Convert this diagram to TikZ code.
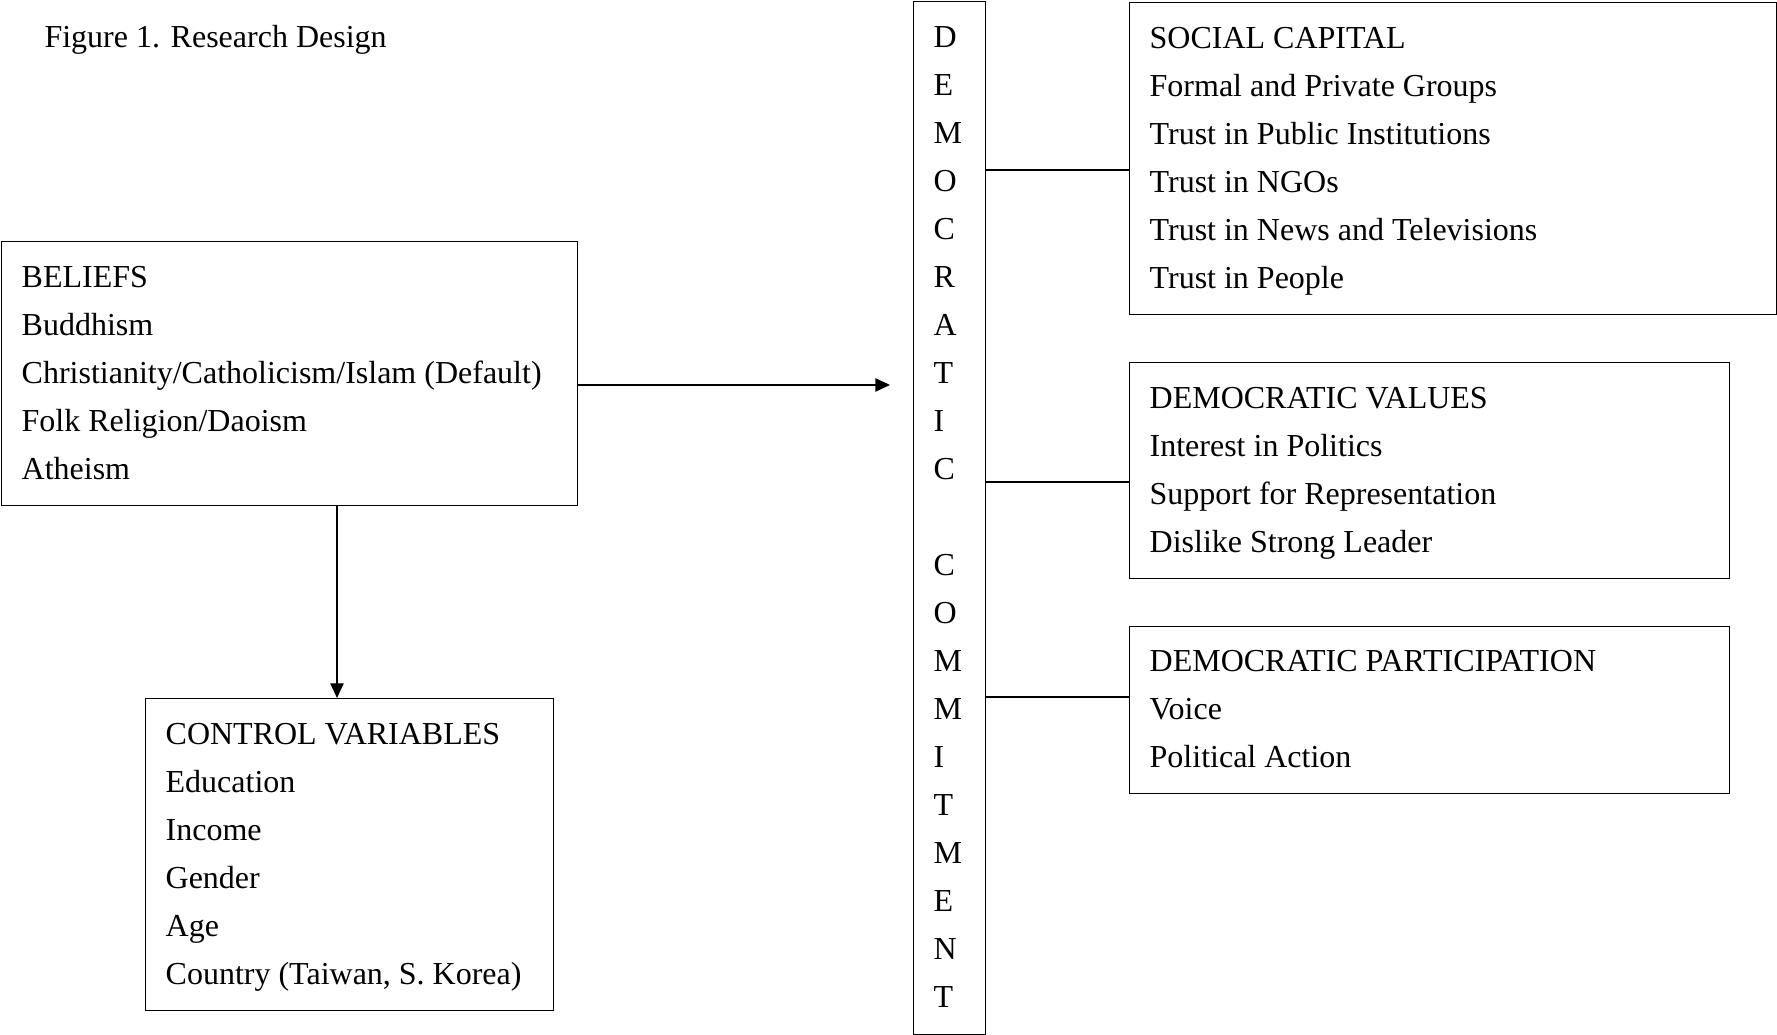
\documentclass[tikz,border=0pt]{standalone}
\usepackage{fontspec}
\setmainfont{Liberation Serif}
\usetikzlibrary{arrows.meta}

\begin{document}
\begin{tikzpicture}[x=0.375pt, y=-0.375pt, font=\fontsize{12}{18}\selectfont,
    box/.style={draw, line width=0.5pt, anchor=north west, align=flush left,
                inner xsep=7.5pt, inner ysep=0pt,
                execute at begin node=\strut, execute at end node=\strut},
    link/.style={line width=0.5pt},
    arr/.style={line width=0.5pt, -{Triangle[length=5.5pt,width=5pt]}}]
    \useasboundingbox (0,0) rectangle (1777,1035);

    \node[anchor=base west, inner sep=0pt] (title) at (44,48) {Figure 1. Research Design};

    \node[box, text width=201pt, minimum height=99pt] (beliefs) at (1,241)
        {BELIEFS\\Buddhism\\Christianity/Catholicism/Islam (Default)\\Folk Religion/Daoism\\Atheism};
    \node[box, text width=138pt, minimum height=117pt] (controls) at (145,698)
        {CONTROL VARIABLES\\Education\\Income\\Gender\\Age\\Country (Taiwan, S. Korea)};

    \node[box, text width=12pt, minimum height=387.4pt] (democ) at (913,1)
        {D\\E\\M\\O\\C\\R\\A\\T\\I\\C\\[18pt]C\\O\\M\\M\\I\\T\\M\\E\\N\\T};

    \node[box, text width=227.6pt, minimum height=117pt] (social) at (1129,2)
        {SOCIAL CAPITAL\\Formal and Private Groups\\Trust in Public Institutions\\Trust in NGOs\\Trust in News and Televisions\\Trust in People};
    \node[box, text width=210pt, minimum height=81pt] (values) at (1129,362)
        {DEMOCRATIC VALUES\\Interest in Politics\\Support for Representation\\Dislike Strong Leader};
    \node[box, text width=210pt, minimum height=62.6pt] (particip) at (1129,626)
        {DEMOCRATIC PARTICIPATION\\Voice\\Political Action};

    \coordinate (tip) at (890,385);
    \coordinate (drop) at (337,0);
    \draw[arr] (beliefs.east |- tip) -- (tip);
    \draw[arr] (drop |- beliefs.south) -- (drop |- controls.north);

    \draw[link] (democ.east |- 0,170) -- (social.west |- 0,170);
    \draw[link] (democ.east |- 0,482) -- (values.west |- 0,482);
    \draw[link] (democ.east |- 0,697) -- (particip.west |- 0,697);
\end{tikzpicture}
\end{document}
